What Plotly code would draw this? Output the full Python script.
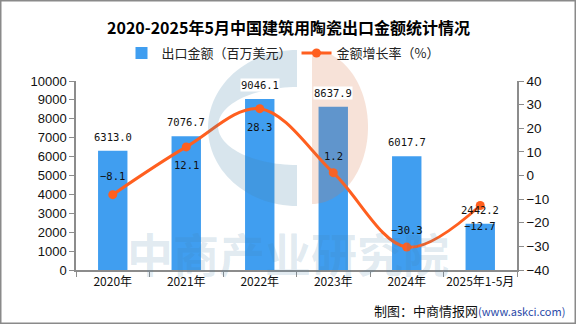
import numpy as np
import plotly.graph_objects as go

# ---- data ----
categories = ["2020年", "2021年", "2022年", "2023年", "2024年", "2025年1-5月"]
export_value = [6313.0, 7076.7, 9046.1, 8637.9, 6017.7, 2442.2]
growth_rate = [-8.1, 12.1, 28.3, 1.2, -30.3, -12.7]
bar_name = "出口金额（百万美元）"
line_name = "金额增长率（%）"
title_text = "2020-2025年5月中国建筑用陶瓷出口金额统计情况"
left_ticks = list(range(0, 10001, 1000))
right_ticks = list(range(-40, 41, 10))

# ---- style ----
BAR_COLOR = "rgb(64,158,240)"
LINE_COLOR = "rgb(255,95,31)"
W, H = 576, 324
L, R, T, B = 76, 517, 81, 270
line_label_offsets = [19, -18, -18, 17, 17, -20]

def px(x):
    return (x - L) / (R - L)

def py(y):
    return (B - y) / (B - T)

fig = go.Figure()
fig.add_trace(go.Bar(
    x=categories, y=export_value, name=bar_name,
    marker=dict(color=BAR_COLOR, line=dict(width=0)),
    yaxis="y", hoverinfo="skip",
))
fig.add_trace(go.Scatter(
    x=categories, y=growth_rate, name=line_name, mode="lines+markers",
    line=dict(color=LINE_COLOR, width=3, shape="spline", smoothing=1.0),
    marker=dict(color=LINE_COLOR, size=9),
    yaxis="y2", hoverinfo="skip",
))

mono = "DejaVu Sans Mono"
annotations = []
for i, (c, v) in enumerate(zip(categories, export_value)):
    annotations.append(dict(
        x=c, y=v, xref="x", yref="y", text=f"{v:.1f}", showarrow=False,
        yshift=14, font=dict(family=mono, size=10.5, color="#111"),
        bgcolor="white" if i < len(categories) - 1 else "rgba(0,0,0,0)",
        borderpad=0,
    ))
for c, v, off in zip(categories, growth_rate, line_label_offsets):
    annotations.append(dict(
        x=c, y=v, xref="x", yref="y2", text=f"{v:.1f}".replace("-", "−"), showarrow=False,
        yshift=off, font=dict(family=mono, size=10.5, color="#111"),
    ))

# title
annotations.append(dict(
    x=px(288), y=py(27), xref="paper", yref="paper", text=f"<b>{title_text}</b>",
    showarrow=False, xanchor="center", yanchor="middle",
    font=dict(family="Noto Sans CJK SC", size=16, color="#000"),
))
# source
annotations.append(dict(
    x=px(567), y=py(310), xref="paper", yref="paper",
    text="制图：中商情报网<span style='font-size:11px;color:#2a4aa8'>(www.askci.com)</span>",
    showarrow=False, xanchor="right", yanchor="middle",
    font=dict(family="Noto Sans CJK SC", size=13, color="#111"),
))
# watermark text
annotations.append(dict(
    x=px(288), y=py(252), xref="paper", yref="paper", text="<b>中商产业研究院</b>",
    showarrow=False, xanchor="center", yanchor="middle",
    font=dict(family="Noto Sans CJK SC", size=46, color="rgba(70,130,170,0.17)"),
))

# watermark logo shapes (pixel geometry -> paper)
t = np.linspace(0, np.pi, 60)
outer = [(297 - 89 * np.sin(a), 128 - 78 * np.cos(a)) for a in t]
inner = [(297 - 79 * np.sin(a), 126 + 39 * np.cos(a)) for a in t]
pts = outer + inner
pathC = "M " + " L ".join(f"{px(x):.4f},{py(y):.4f}" for x, y in pts) + " Z"
salm = [(312 + 56 * np.sin(a), 127 - 77 * np.cos(a)) for a in t]
pathS = "M " + " L ".join(f"{px(x):.4f},{py(y):.4f}" for x, y in salm) + " Z"

shapes = [
    dict(type="path", path=pathC, xref="paper", yref="paper",
         fillcolor="rgba(70,130,170,0.21)", line=dict(width=0), layer="above"),
    dict(type="path", path=pathS, xref="paper", yref="paper",
         fillcolor="rgba(215,120,70,0.21)", line=dict(width=0), layer="above"),
    dict(type="rect", xref="paper", yref="paper",
         x0=px(0.75), x1=px(W - 0.75), y0=py(H - 0.75), y1=py(0.75),
         line=dict(color="#8a8a8a", width=1.5), fillcolor="rgba(0,0,0,0)", layer="above"),
]

axis_col = "#8c8c8c"
fig.update_layout(
    width=W, height=H,
    margin=dict(l=L, r=W - R, t=T, b=H - B, pad=0),
    paper_bgcolor="white", plot_bgcolor="white",
    bargap=0.6,
    showlegend=True,
    legend=dict(
        orientation="h", x=px(283), y=py(53), xanchor="center", yanchor="middle",
        font=dict(family="Noto Sans CJK SC", size=13, color="#222"),
        bgcolor="rgba(0,0,0,0)", itemwidth=30, tracegroupgap=0,
    ),
    xaxis=dict(
        type="category", showline=True, linecolor=axis_col, linewidth=1.5,
        ticks="outside", ticklen=5, tickcolor=axis_col, tickson="boundaries",
        showgrid=False, zeroline=False, tickangle=0,
        tickfont=dict(family="Noto Sans CJK SC", size=12, color="#111"),
    ),
    yaxis=dict(
        range=[0, 10000], tickvals=left_ticks, ticktext=[str(v) for v in left_ticks],
        showline=True, linecolor=axis_col,
        linewidth=1.5, ticks="outside", ticklen=5, tickcolor=axis_col,
        showgrid=False, zeroline=False,
        tickfont=dict(family="Liberation Sans", size=13, color="#111"),
    ),
    yaxis2=dict(
        range=[-40, 40], tickvals=right_ticks, overlaying="y", side="right",
        showline=True, linecolor=axis_col, linewidth=1.5, ticks="outside",
        ticklen=5, tickcolor=axis_col, showgrid=False, zeroline=False,
        ticktext=[str(v).replace("-", "−") for v in right_ticks],
        tickfont=dict(family="Liberation Sans", size=13.5, color="#111"),
    ),
    annotations=annotations,
    shapes=shapes,
)

fig.write_html("out.html")
